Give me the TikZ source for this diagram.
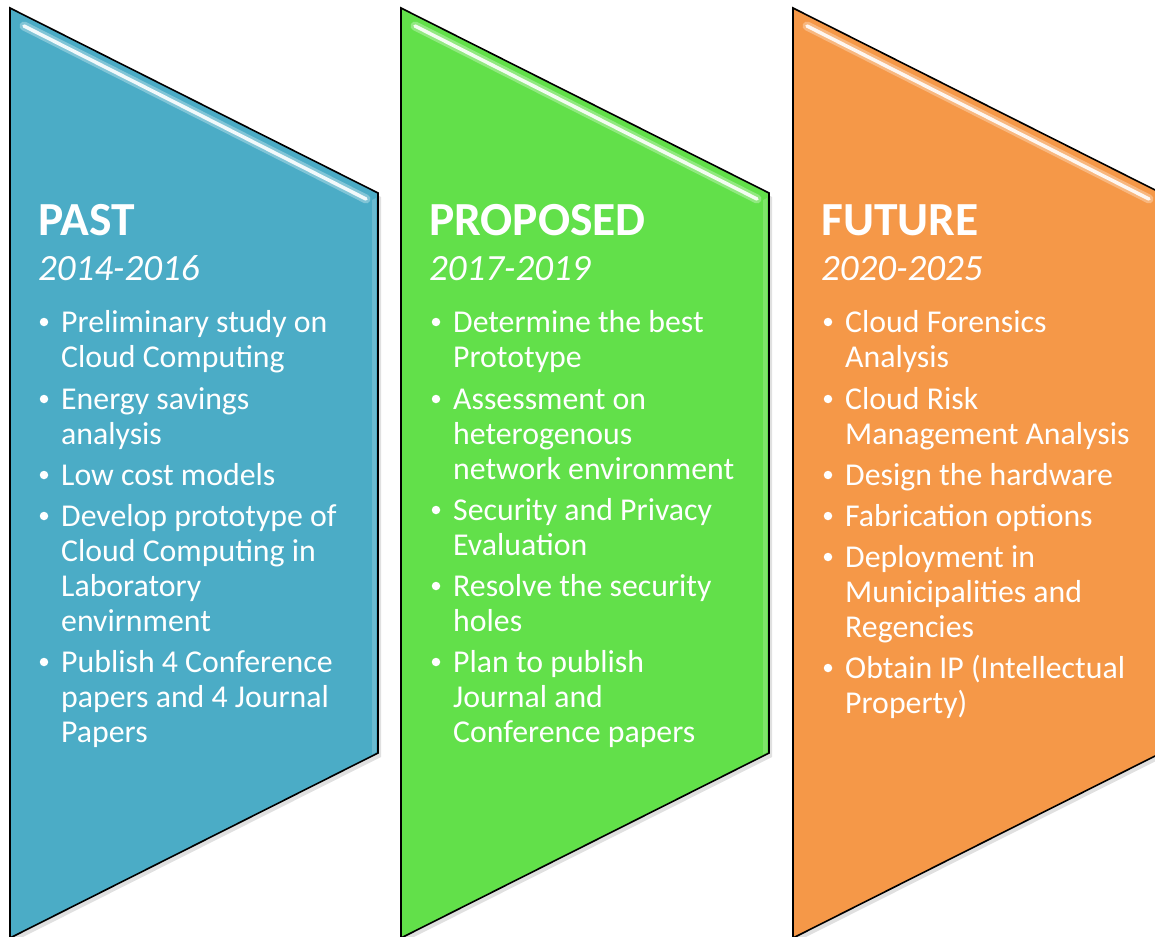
\documentclass[tikz,border=0pt]{standalone}
\usepackage{fontspec}
\setmainfont{Carlito}
\begin{document}
\begin{tikzpicture}[x=1pt,y=-1pt,
  panel/.style={draw=black,line width=1.6pt,line join=miter},
  shadowpanel/.style={fill=black!35,opacity=0.35},
  gloss/.style={draw=white,line width=3.5pt,line cap=round,opacity=0.9},
  glosswide/.style={draw=white,line width=9pt,line cap=round,opacity=0.3},
  ttl/.style={anchor=base west,inner sep=0pt,text=white,font=\fontsize{47.5}{50}\selectfont\bfseries},
  yrs/.style={anchor=base west,inner sep=0pt,text=white,font=\fontsize{37}{40}\selectfont\itshape},
  itm/.style={anchor=base west,inner sep=0pt,text=white,font=\fontsize{31.8}{35}\selectfont},
  dot/.style={circle,fill=white,inner sep=0pt,minimum size=8.5pt}]
\definecolor{cpast}{RGB}{75,172,198}
\definecolor{cprop}{RGB}{98,224,74}
\definecolor{cfut}{RGB}{245,152,72}
\newcommand\lines[1]{\begin{tabular}[t]{@{}l@{}}#1\end{tabular}}
\useasboundingbox (0,0) rectangle (1155,936);
\clip (0,0) rectangle (1155,936);
% panels
\foreach \X/\C in {10/cpast,401/cprop,793/cfut}{
  \fill[shadowpanel] (\X+3,12) -- (\X+371,197) -- (\X+371,757) -- (\X+3,942) -- cycle;
  \filldraw[panel,fill=\C] (\X,8) -- (\X+368,193) -- (\X+368,753) -- (\X,938) -- cycle;
  \draw[glosswide] (\X+14,26) -- (\X+356,199);
  \draw[gloss] (\X+14,26) -- (\X+356,199);
  \fill[white,opacity=0.18] (\X+362,200) -- (\X+366,198) -- (\X+366,752) -- (\X+362,754) -- cycle;
}
% column 1
\node[ttl] (t1) at (38,235) {PAST};
\node[yrs] (y1) at (38,280) {2014-2016};
\foreach \B/\T [count=\i] in {332/{Preliminary study on\\Cloud Computing},409/{Energy savings\\analysis},485/{Low cost models},526/{Develop prototype of\\Cloud Computing in\\Laboratory\\envirnment},672/{Publish 4 Conference\\papers and 4 Journal\\Papers}}{
  \node[dot] (b1\i) at (44,\B-10) {};
  \node[itm] (a1\i) at (61,\B) {\lines{\T}};
}
% column 2
\node[ttl] (t2) at (429,235) {PROPOSED};
\node[yrs] (y2) at (429,280) {2017-2019};
\foreach \B/\T [count=\i] in {332/{Determine the best\\Prototype},409/{Assessment on\\heterogenous\\network environment},520/{Security and Privacy\\Evaluation},596/{Resolve the security\\holes},672/{Plan to publish\\Journal and\\Conference papers}}{
  \node[dot] (b2\i) at (436,\B-10) {};
  \node[itm] (a2\i) at (453,\B) {\lines{\T}};
}
% column 3
\node[ttl] (t3) at (821,235) {FUTURE};
\node[yrs] (y3) at (821,280) {2020-2025};
\foreach \B/\T [count=\i] in {332/{Cloud Forensics\\Analysis},409/{Cloud Risk\\Management Analysis},485/{Design the hardware},526/{Fabrication options},567/{Deployment in\\Municipalities and\\Regencies},678/{Obtain IP (Intellectual\\Property)}}{
  \node[dot] (b3\i) at (828,\B-10) {};
  \node[itm] (a3\i) at (845,\B) {\lines{\T}};
}
\end{tikzpicture}
\end{document}
